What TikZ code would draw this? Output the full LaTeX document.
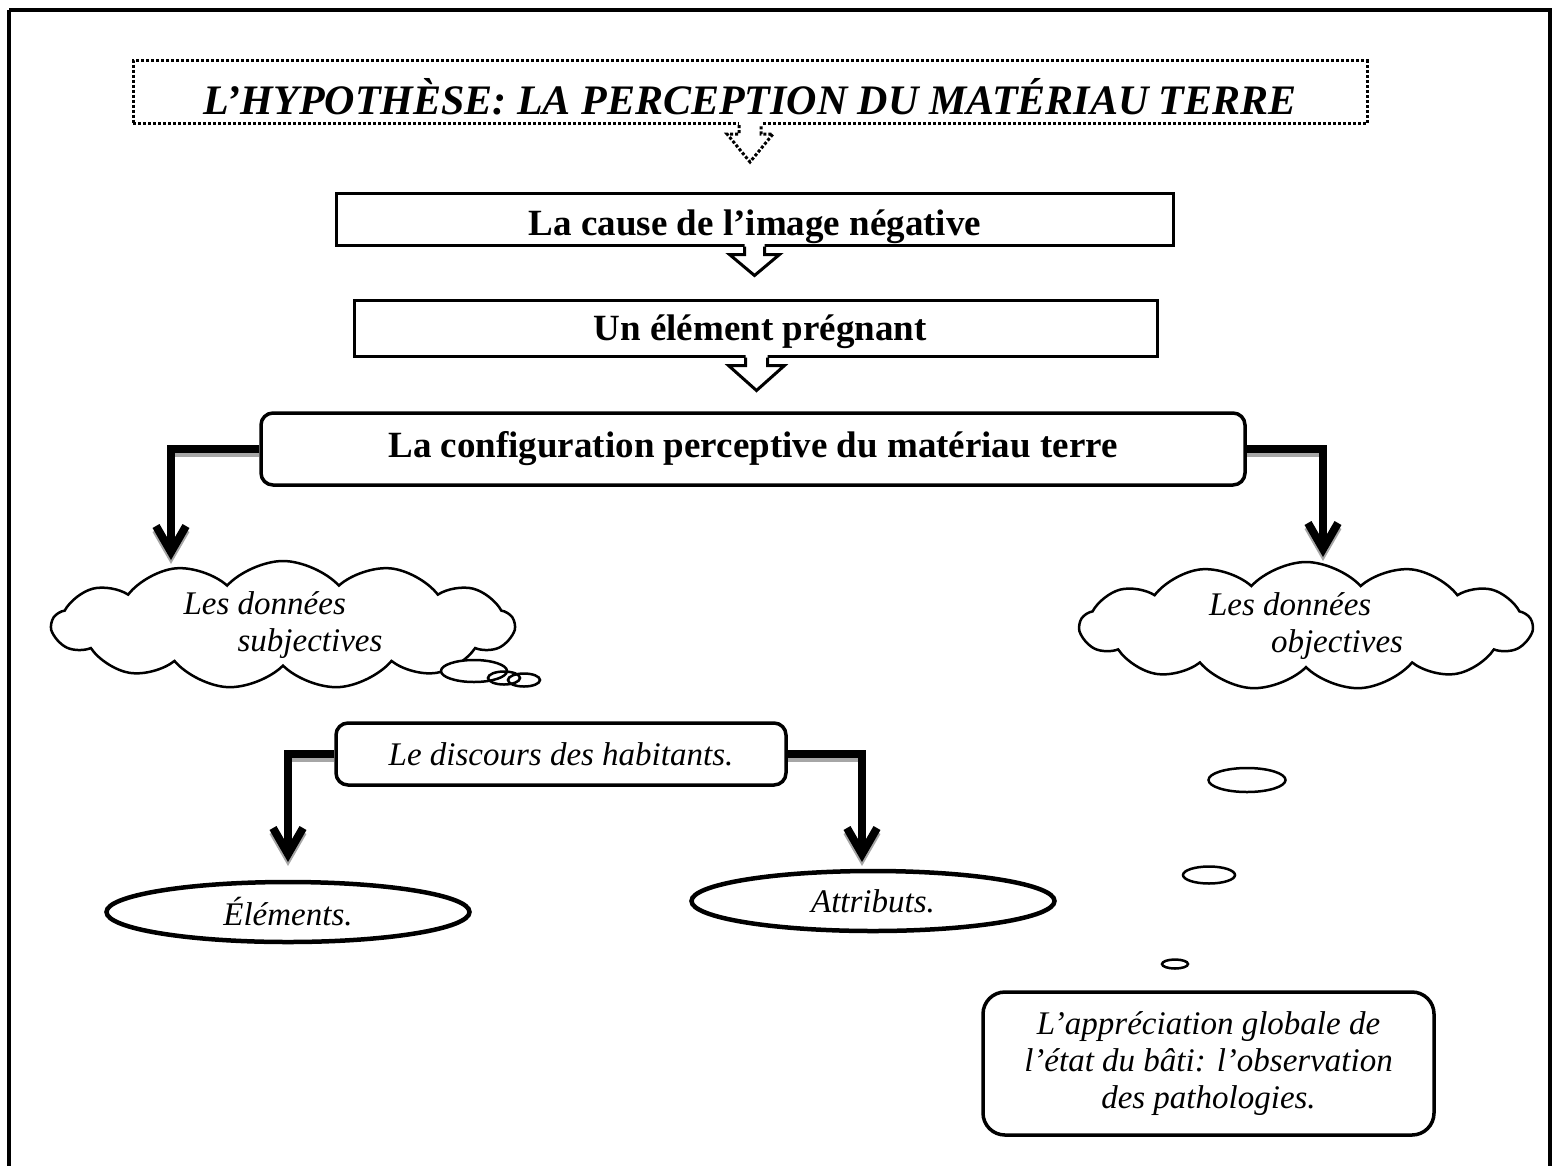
\documentclass[tikz,border=0pt]{standalone}
\usepackage{fontspec}
\setmainfont{Liberation Serif}
\usetikzlibrary{shapes.symbols,shapes.geometric,arrows.meta,calc}
\begin{document}
\begin{tikzpicture}[x=1pt,y=-1pt,
  bfont/.style={font=\bfseries\fontsize{37}{40}\selectfont},
  ifont/.style={font=\itshape\fontsize{33}{37}\selectfont},
  plainbox/.style={draw,line width=3pt,inner sep=0pt},
  roundbox/.style={draw,line width=3.5pt,rounded corners=12pt,inner sep=0pt},
  hollow/.style={line width=3pt,line join=miter},
  elbow/.style={line width=8pt,-{Straight Barb[length=26pt,width=30pt]}},
  elbowshadow/.style={elbow,draw=black!35,transform canvas={yshift=-4pt}},
  puff/.style={draw,cloud,cloud puffs=13,cloud puff arc=95,cloud ignores aspect,line width=2.5pt,inner sep=0pt,align=left},
  bubble/.style={draw,ellipse,line width=2.5pt,inner sep=0pt},
  oval/.style={draw,ellipse,line width=4.5pt,inner sep=0pt}]
\useasboundingbox (0,0) rectangle (1557,1165);
% outer frame
\draw[line width=4pt] (9,10) -- (1549.5,10) -- (1549.5,1180) (9,1180) -- (9,10);
% title
\node[draw,dotted,line width=3pt,minimum width=1234pt,minimum height=63pt,inner sep=0pt] (title) at (750,92) {};
\node[font=\bfseries\itshape\fontsize{42}{46}\selectfont] (titletxt) at (750,97) {L’HYPOTHÈSE: LA PERCEPTION DU MATÉRIAU TERRE};
% box 1
\node[plainbox,minimum width=837pt,minimum height=52pt] (cause) at (754.5,219) {};
\node[bfont] (causetxt) at (755,227) {La cause de l’image négative};
% box 2
\node[plainbox,minimum width=803pt,minimum height=56pt] (pregn) at (755.5,328) {};
\node[bfont] (pregntxt) at (760,332) {Un élément prégnant};
% box 3
\node[roundbox,bfont,minimum width=984pt,minimum height=72pt] (config) at (753,449) {La configuration perceptive du matériau terre};
% hollow arrows
\fill[white] ($(title.south)+(-11,-3)$) -- ++(0,12) -- ++(-12,0) -- ++(23,28) -- ++(23,-28) -- ++(-12,0) -- ++(0,-12) -- cycle;
\draw[hollow,dotted] ($(title.south)+(-11,0)$) -- ++(0,9) -- ++(-12,0) -- ++(23,28) -- ++(23,-28) -- ++(-12,0) -- ++(0,-9);
\fill[white] ($(cause.south)+(-10,-3)$) -- ++(0,11) -- ++(-15,0) -- ++(25,21) -- ++(25,-21) -- ++(-15,0) -- ++(0,-11) -- cycle;
\draw[hollow] ($(cause.south)+(-10,0)$) -- ++(0,8) -- ++(-15,0) -- ++(25,21) -- ++(25,-21) -- ++(-15,0) -- ++(0,-8);
\fill[white] ($(pregn.south)+(-10,-3)$) -- ++(0,11) -- ++(-17,0) -- ++(28,25) -- ++(28,-25) -- ++(-17,0) -- ++(0,-11) -- cycle;
\draw[hollow] ($(pregn.south)+(-10,0)$) -- ++(0,8) -- ++(-17,0) -- ++(28,25) -- ++(28,-25) -- ++(-17,0) -- ++(0,-8);
% clouds
\node[puff,ifont,minimum width=462pt,minimum height=128pt] (subj) at (283,625) {Les données\\\hspace*{54pt}subjectives};
\node[puff,ifont,minimum width=452pt,minimum height=128pt] (obj) at (1306,626) {Les données\\\hspace*{62pt}objectives};
\node[bubble,fill=white,minimum width=66pt,minimum height=22pt] (b1) at (474,671) {};
\node[bubble,minimum width=32pt,minimum height=13pt] (b2) at (504,678) {};
\node[bubble,minimum width=32pt,minimum height=13pt] (b3) at (524,680) {};
\node[bubble,minimum width=77pt,minimum height=24pt] (b4) at (1247,780) {};
\node[bubble,minimum width=52pt,minimum height=17pt] (b5) at (1209,875) {};
\node[bubble,minimum width=26pt,minimum height=9pt] (b6) at (1175,964) {};
% elbow arrows from config
\coordinate (tipL) at (171,560);
\coordinate (tipR) at (1323,557);
\draw[elbowshadow] (config.west) -| (tipL);
\draw[elbowshadow] (config.east) -| (tipR);
\draw[elbow] (config.west) -| (tipL);
\draw[elbow] (config.east) -| (tipR);
% discours
\node[roundbox,ifont,minimum width=450pt,minimum height=62pt] (disc) at (561,754) {Le discours des habitants.};
\coordinate (tipE) at (288,862);
\coordinate (tipA) at (862,862);
\draw[elbowshadow] (disc.west) -| (tipE);
\draw[elbowshadow] (disc.east) -| (tipA);
\draw[elbow] (disc.west) -| (tipE);
\draw[elbow] (disc.east) -| (tipA);
% ovals
\node[oval,ifont,minimum width=363pt,minimum height=60pt] (elem) at (288,912) {Éléments.};
\node[oval,ifont,minimum width=363pt,minimum height=60pt] (attr) at (873,901) {Attributs.};
% bottom box
\node[draw,line width=3.5pt,rounded corners=22pt,ifont,align=center,minimum width=451pt,minimum height=143pt] (appr) at (1208.5,1063.5) {L’appréciation globale de\\l’état du bâti: l’observation\\des pathologies.};
\end{tikzpicture}
\end{document}
